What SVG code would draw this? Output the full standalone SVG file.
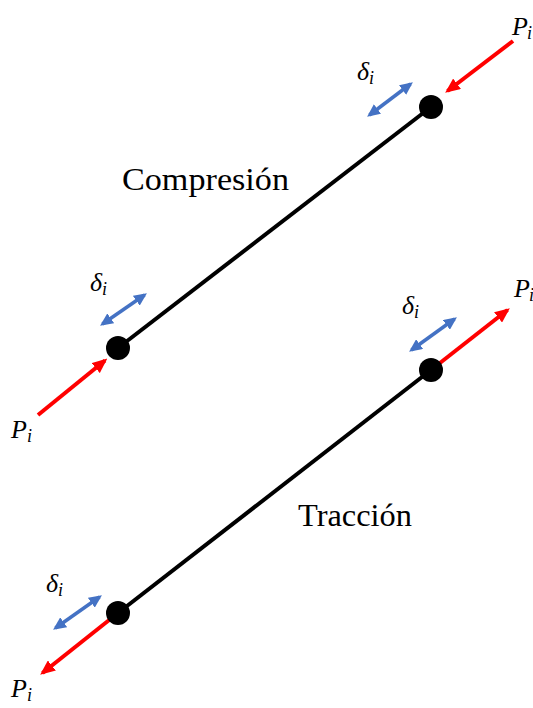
<svg xmlns="http://www.w3.org/2000/svg" width="533" height="708" viewBox="0 0 533 708">
<style>
.bar{stroke:#000;stroke-width:4;fill:none}
.node{fill:#000}
.force{stroke:#FF0000;stroke-width:4;fill:none;marker-end:url(#ar)}
.disp{stroke:#4472C4;stroke-width:3.5;fill:none;marker-start:url(#ab);marker-end:url(#ab)}
.lbl{font-family:"Liberation Serif",serif;font-size:31px;fill:#000}
.m{font-family:"Liberation Serif",serif;font-style:italic;font-size:26px;fill:#000}
.sub{font-size:18px}
</style>
<defs>
<marker id="ar" markerUnits="userSpaceOnUse" viewBox="0 0 15 13" markerWidth="15" markerHeight="13" refX="12" refY="6.5" orient="auto"><path d="M0,0 L15,6.5 L0,13 Z" fill="#FF0000"/></marker>
<marker id="ab" markerUnits="userSpaceOnUse" viewBox="0 0 13 12" markerWidth="13" markerHeight="12" refX="10" refY="6" orient="auto-start-reverse"><path d="M0,0 L13,6 L0,12 Z" fill="#4472C4"/></marker>
</defs>
<g id="connectors">
<line class="bar" x1="431" y1="107" x2="118" y2="348"/>
<line class="bar" x1="431" y1="370" x2="118" y2="613"/>
<line class="force" x1="513" y1="41" x2="447.5" y2="91"/>
<line class="force" x1="38" y1="415" x2="105" y2="360.5"/>
<line class="force" x1="431" y1="370" x2="507.5" y2="310"/>
<line class="force" x1="118" y1="613" x2="42.5" y2="673"/>
<line class="disp" x1="369.5" y1="115" x2="410.5" y2="84"/>
<line class="disp" x1="102.5" y1="324" x2="144.5" y2="295"/>
<line class="disp" x1="411.5" y1="350" x2="454.5" y2="319"/>
<line class="disp" x1="55.5" y1="628" x2="99.5" y2="597"/>
</g>
<g id="node-top-compresion"><circle class="node" cx="431" cy="107" r="12"/></g>
<g id="node-bottom-compresion"><circle class="node" cx="118" cy="348" r="12"/></g>
<g id="node-top-traccion"><circle class="node" cx="431" cy="370" r="12"/></g>
<g id="node-bottom-traccion"><circle class="node" cx="118" cy="613" r="12"/></g>
<g id="labels">
<text class="lbl" x="122" y="190" textLength="167" lengthAdjust="spacingAndGlyphs">Compresión</text>
<text class="lbl" x="298" y="526" textLength="114" lengthAdjust="spacingAndGlyphs">Tracción</text>
<text class="m" x="357" y="80">δ<tspan class="sub" dy="4">i</tspan></text>
<text class="m" x="512" y="35">P<tspan class="sub" dx="-1" dy="4">i</tspan></text>
<text class="m" x="90" y="291">δ<tspan class="sub" dy="4">i</tspan></text>
<text class="m" x="11" y="438">P<tspan class="sub" dy="4">i</tspan></text>
<text class="m" x="402" y="314">δ<tspan class="sub" dy="4">i</tspan></text>
<text class="m" x="514" y="297">P<tspan class="sub" dx="-1" dy="4">i</tspan></text>
<text class="m" x="46" y="592">δ<tspan class="sub" dy="4">i</tspan></text>
<text class="m" x="11" y="697">P<tspan class="sub" dy="4">i</tspan></text>
</g>
</svg>
